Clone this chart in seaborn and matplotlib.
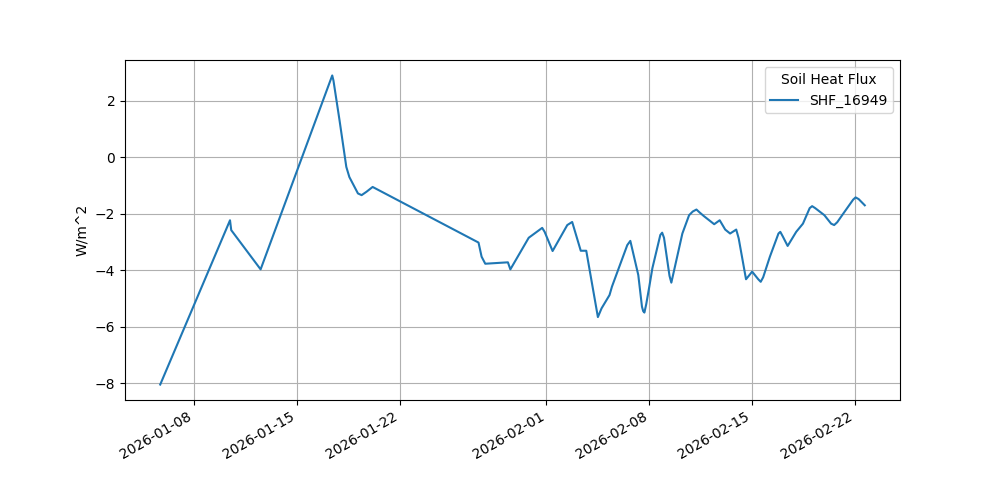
import matplotlib
matplotlib.use("Agg")
import matplotlib.pyplot as plt
import pandas as pd
import seaborn as sns

# Soil heat flux readings
timestamps = [
    "2026-01-05 17:00", "2026-01-10 11:00", "2026-01-10 13:00", "2026-01-12 13:00",
    "2026-01-17 10:00", "2026-01-17 12:00", "2026-01-17 22:00", "2026-01-18 09:00",
    "2026-01-18 14:00", "2026-01-19 04:00", "2026-01-19 10:00", "2026-01-19 18:00",
    "2026-01-20 04:00", "2026-01-27 09:00", "2026-01-27 14:00", "2026-01-27 20:00",
    "2026-01-29 09:00", "2026-01-29 13:00", "2026-01-30 19:00", "2026-01-31 17:00",
    "2026-01-31 21:00", "2026-02-01 10:00", "2026-02-02 10:00", "2026-02-02 18:00",
    "2026-02-03 08:00", "2026-02-03 17:00", "2026-02-04 12:00", "2026-02-04 18:00",
    "2026-02-05 07:00", "2026-02-05 11:00", "2026-02-06 12:00", "2026-02-06 17:00",
    "2026-02-07 06:00", "2026-02-07 12:00", "2026-02-07 14:00", "2026-02-07 16:00",
    "2026-02-07 19:00", "2026-02-08 00:00", "2026-02-08 05:00", "2026-02-08 18:00",
    "2026-02-08 21:00", "2026-02-09 00:00", "2026-02-09 09:00", "2026-02-09 12:00",
    "2026-02-09 15:00", "2026-02-10 06:00", "2026-02-10 17:00", "2026-02-10 23:00",
    "2026-02-11 05:00", "2026-02-11 10:00", "2026-02-11 17:00", "2026-02-12 10:00",
    "2026-02-12 19:00", "2026-02-13 04:00", "2026-02-13 12:00", "2026-02-13 22:00",
    "2026-02-14 02:00", "2026-02-14 14:00", "2026-02-15 00:00", "2026-02-15 10:00",
    "2026-02-15 14:00", "2026-02-15 18:00", "2026-02-16 05:00", "2026-02-16 19:00",
    "2026-02-16 22:00", "2026-02-17 02:00", "2026-02-17 10:00", "2026-02-18 00:00",
    "2026-02-18 11:00", "2026-02-18 22:00", "2026-02-19 02:00", "2026-02-19 07:00",
    "2026-02-19 22:00", "2026-02-20 09:00", "2026-02-20 14:00", "2026-02-20 19:00",
    "2026-02-21 05:00", "2026-02-21 21:00", "2026-02-22 01:00", "2026-02-22 06:00",
    "2026-02-22 16:00",
]
shf_values = [
    -8.05, -2.23, -2.58, -3.97,
    2.90, 2.72, 1.30, -0.34,
    -0.70, -1.28, -1.34, -1.22,
    -1.05, -3.02, -3.52, -3.77,
    -3.72, -3.97, -2.85, -2.50,
    -2.64, -3.32, -2.40, -2.29,
    -3.31, -3.31, -5.66, -5.35,
    -4.88, -4.58, -3.11, -2.96,
    -4.17, -5.29, -5.45, -5.50,
    -5.20, -4.58, -3.93, -2.75,
    -2.67, -2.85, -4.20, -4.44,
    -4.15, -2.70, -2.05, -1.92,
    -1.85, -1.95, -2.08, -2.37,
    -2.23, -2.56, -2.70, -2.56,
    -2.87, -4.32, -4.05, -4.32,
    -4.41, -4.25, -3.52, -2.70,
    -2.64, -2.80, -3.14, -2.64,
    -2.35, -1.80, -1.73, -1.80,
    -2.05, -2.35, -2.40, -2.30,
    -1.99, -1.50, -1.42, -1.48,
    -1.70,
]
sensor_name = "SHF_16949"

df = pd.DataFrame({
    "time": pd.to_datetime(timestamps),
    "value": shf_values,
    "sensor": sensor_name,
})

fig, ax = plt.subplots(figsize=(10, 5), dpi=100)
sns.lineplot(data=df, x="time", y="value", hue="sensor", ax=ax,
             palette=["#1f77b4"], linewidth=1.5)
ax.set_xlabel("")
ax.set_ylabel("W/m^2")
ax.grid(True)
ax.legend(title="Soil Heat Flux")
fig.autofmt_xdate()
fig.savefig("out.png")
